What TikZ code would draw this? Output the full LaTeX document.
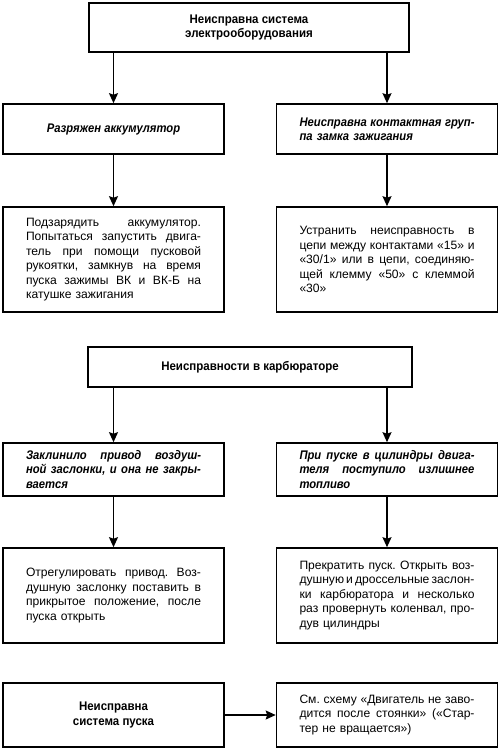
\documentclass[tikz,border=0pt]{standalone}
\usepackage{fontspec}
\setmainfont{Liberation Sans}[BoldFeatures={FakeStretch=0.92},BoldItalicFeatures={FakeStretch=0.90}]
\usetikzlibrary{arrows.meta}
\frenchspacing
\newcommand\jl[1]{\leavevmode\hbox to 175pt{\spaceskip=.25em plus 3em minus .12em\relax\xspaceskip=\spaceskip #1}}
\begin{document}
\begin{tikzpicture}[x=1pt,y=-1pt,
  box/.style={draw,line width=1.6pt,minimum width=221pt,inner sep=0pt,font=\fontsize{12.1}{14.5}\selectfont},
  txt/.style={box,text width=175pt,align=left},
  cause/.style={txt,font=\fontsize{12.5}{14.4}\selectfont\bfseries\itshape},
  head/.style={box,align=center,font=\fontsize{12.5}{14.4}\selectfont\bfseries},
  arr/.style={line width=1.4pt,-{Stealth[length=10pt,width=9pt,inset=1.5pt]}}]
\useasboundingbox (0,0) rectangle (500,750);
\fill[white] (0,0) rectangle (500,750);
% block 1
\node[head,minimum width=320pt,minimum height=49pt] (top) at (249,27.5) {Неисправна система\\электрооборудования};
\node[head,minimum height=50pt] (l1) at (113.5,129) {\itshape Разряжен аккумулятор};
\node[cause,minimum height=50pt] (r1) at (387,129) {\jl{Неисправна контактная груп-}\\па замка зажигания};
\node[txt,minimum height=105pt] (l2) at (113.5,259.5) {\jl{Подзарядить аккумулятор.}\\\jl{Попытаться запустить двига-}\\\jl{тель при помощи пусковой}\\\jl{рукоятки, замкнув на время}\\\jl{пуска зажимы ВК и ВК-Б на}\\катушке зажигания};
\node[txt,minimum height=105pt] (r2) at (387,259.5) {\jl{Устранить неисправность в}\\\jl{цепи между контактами «15» и}\\\jl{«30/1» или в цепи, соединяю-}\\\jl{щей клемму «50» с клеммой}\\«30»};
\draw[arr] (l1.north |- top.south) -- (l1.north);
\draw[arr] (r1.north |- top.south) -- (r1.north);
\draw[arr] (l1) -- (l2);
\draw[arr] (r1) -- (r2);
% block 2
\node[head,minimum width=324pt,minimum height=40pt] (carb) at (250,367) {Неисправности в карбюраторе};
\node[cause,minimum height=53pt] (l3) at (113.5,469.5) {\jl{Заклинило привод воздуш-}\\\jl{ной заслонки, и она не закры-}\\вается};
\node[cause,minimum height=53pt] (r3) at (387,469.5) {\jl{При пуске в цилиндры двига-}\\\jl{теля поступило излишнее}\\топливо};
\node[txt,minimum height=95pt] (l4) at (113.5,595.5) {\jl{Отрегулировать привод. Воз-}\\\jl{душную заслонку поставить в}\\\jl{прикрытое положение, после}\\пуска открыть};
\node[txt,minimum height=95pt] (r4) at (387,595.5) {\jl{Прекратить пуск. Открыть воз-}\\\jl{душную и дроссельные заслон-}\\\jl{ки карбюратора и несколько}\\\jl{раз провернуть коленвал, про-}\\дув цилиндры};
\draw[arr] (l3.north |- carb.south) -- (l3.north);
\draw[arr] (r3.north |- carb.south) -- (r3.north);
\draw[arr] (l3) -- (l4);
\draw[arr] (r3) -- (r4);
% block 3
\node[head,minimum height=64pt] (l5) at (113.5,715) {Неисправна\\система пуска};
\node[txt,minimum height=64pt] (r5) at (387,715) {\jl{См. схему «Двигатель не заво-}\\\jl{дится после стоянки» («Стар-}\\тер не вращается»)};
\draw[arr] (l5) -- (r5);
\end{tikzpicture}
\end{document}
